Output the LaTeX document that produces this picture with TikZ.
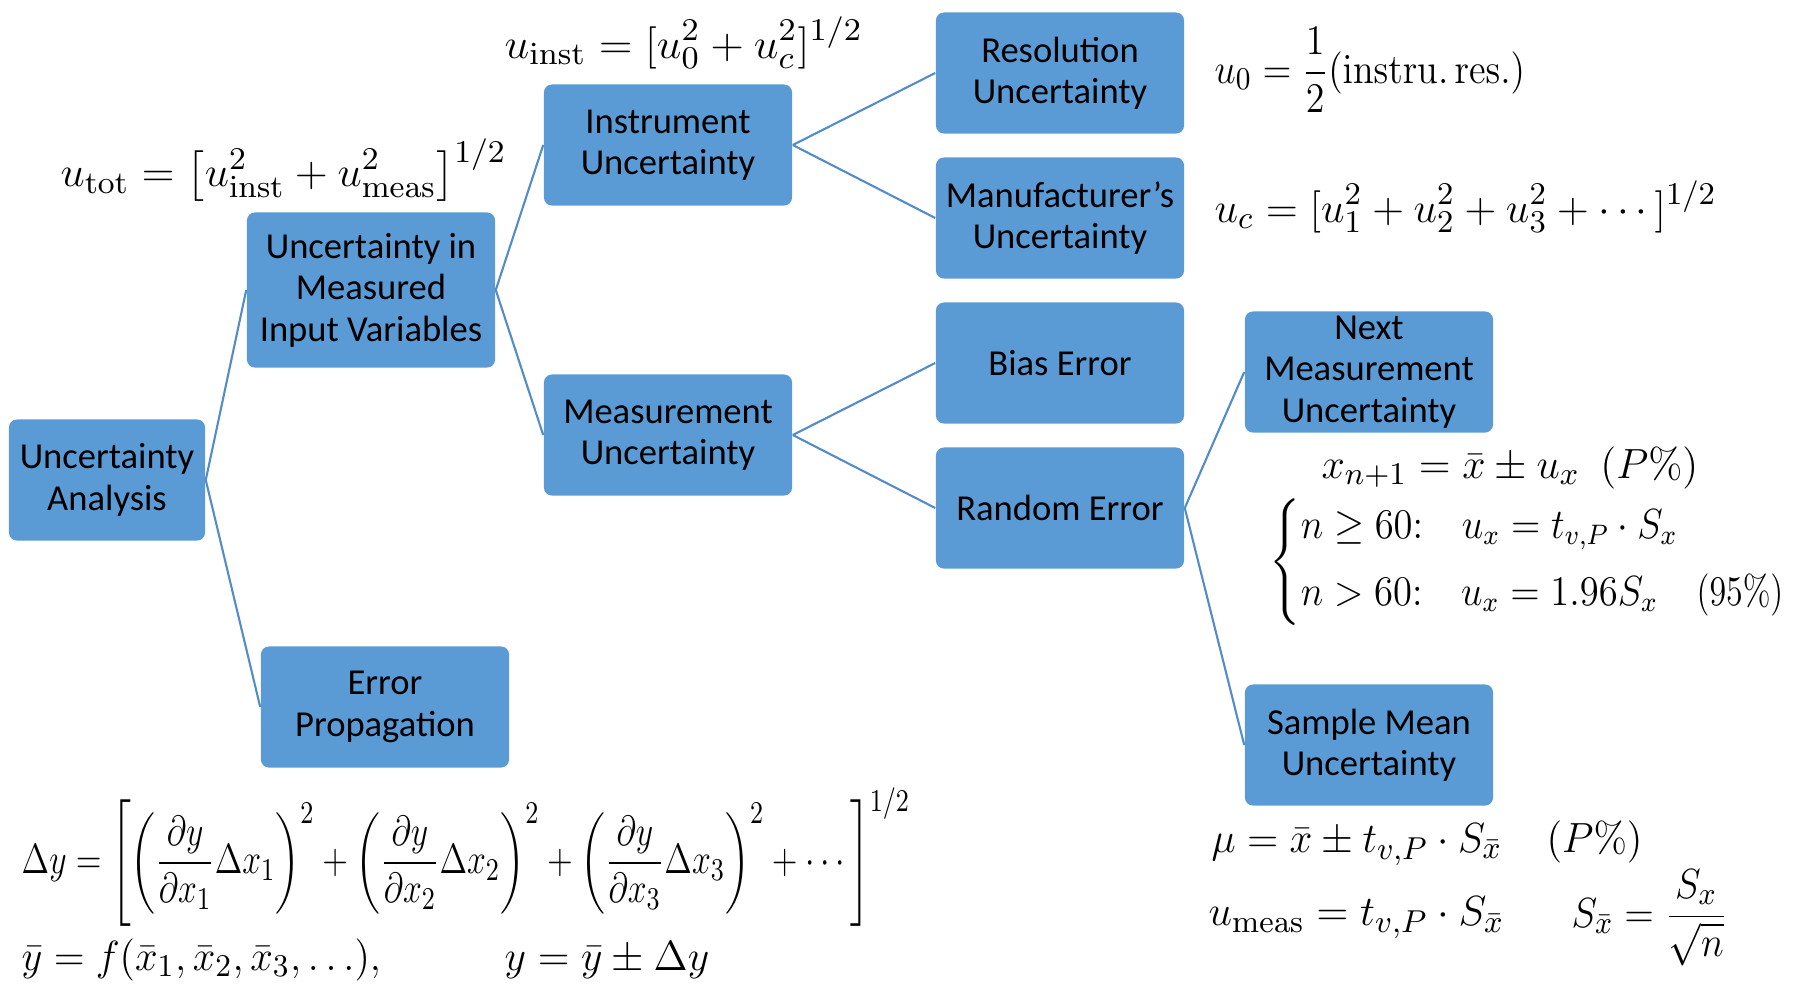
\documentclass[tikz,border=0pt]{standalone}
\usepackage{amsmath}
\usepackage[no-math]{fontspec}
\setmainfont{Carlito}

\definecolor{boxblue}{RGB}{91,155,213}
\definecolor{lineblue}{RGB}{84,140,200}

% squeeze a formula sideways: #1 = x factor, #2 = formula
\newcommand{\sqz}[2]{\scalebox{#1}[1]{$\displaystyle #2$}}

\tikzset{
  ubox/.style={fill=boxblue, rounded corners=0.08cm, minimum width=2.48cm,
    minimum height=1.21cm, align=center, inner sep=0pt,
    font=\fontsize{10.4}{11.8}\selectfont},
  ulink/.style={lineblue, line width=0.6pt},
  eqn/.style={inner sep=0pt, font=\fontsize{13}{15}\selectfont},
}

\begin{document}
\begin{tikzpicture}[x=0.01cm, y=-0.01cm]

\useasboundingbox (0,0) rectangle (1796,987);

% ================================================================
% Boxes (tree, left to right)
% ================================================================
\node[ubox, minimum width=1.96cm] (ana) at (107,480) {Uncertainty\\Analysis};

\node[ubox, minimum height=1.55cm] (inp) at (371,290) {Uncertainty in\\Measured\\Input Variables};
\node[ubox] (prop) at (385,707) {Error\\Propagation};

\node[ubox] (inst) at (668,145) {Instrument\\Uncertainty};
\node[ubox] (meas) at (668,435) {Measurement\\Uncertainty};

\node[ubox] (res)  at (1060,73)  {Resolution\\Uncertainty};
\node[ubox] (manu) at (1060,218) {Manufacturer’s\\Uncertainty};
\node[ubox] (bias) at (1060,363) {Bias Error};
\node[ubox] (rand) at (1060,508) {Random Error};

\node[ubox] (next)  at (1369,372) {Next\\Measurement\\Uncertainty};
\node[ubox] (smean) at (1369,745) {Sample Mean\\Uncertainty};

% ================================================================
% Branch lines
% ================================================================
\foreach \from/\to in {ana/inp, ana/prop, inp/inst, inp/meas, inst/res,
    inst/manu, meas/bias, meas/rand, rand/next, rand/smean} {
  \draw[ulink] (\from.east) -- (\to.west);
}

% ================================================================
% Formulas
% ================================================================
% instrument / total
\node[eqn, anchor=west] (uinst) at (504,43) {\sqz{1.05}{u_{\mathrm{inst}} = [u_0^2 + u_c^2]^{1/2}}};
\node[eqn, anchor=west] (utot)  at (60,170) {\sqz{1.03}{u_{\mathrm{tot}} = \bigl[u_{\mathrm{inst}}^2 + u_{\mathrm{meas}}^2\bigr]^{1/2}}};

% resolution / manufacturer
\node[eqn, anchor=west] (uzero) at (1214,70) {\sqz{0.9}{u_0 = \frac{1}{2}(\mathrm{instru.\,res.})}};
\node[eqn, anchor=west] (uc)    at (1214,207) {\sqz{1}{u_c = [u_1^2 + u_2^2 + u_3^2 + \cdots]^{1/2}}};

% next measurement
\node[eqn, anchor=west] (xnext) at (1321,468) {\sqz{0.99}{x_{n+1} = \bar{x} \pm u_x\ \ (P\%)}};
\node[eqn, anchor=west, font=\fontsize{12}{14}\selectfont] (ncase) at (1269,562) {\sqz{0.915}{\left\{\begin{array}{@{}l@{}}
  n \geq 60{:}\quad u_x = t_{v,P}\cdot S_x\\[5pt]
  n > 60{:}\quad u_x = 1.96S_x\quad \scalebox{0.88}[1]{$(95\%)$}
  \end{array}\right.}};

% sample mean
\node[eqn, anchor=west] (mu)    at (1211,843) {\sqz{0.97}{\mu = \bar{x} \pm t_{v,P}\cdot S_{\bar{x}}\quad(P\%)}};
\node[eqn, anchor=west] (umeas) at (1208,918) {\sqz{1}{u_{\mathrm{meas}} = t_{v,P}\cdot S_{\bar{x}}}};
\node[eqn, anchor=west] (sxbar) at (1571,918) {\sqz{0.92}{S_{\bar{x}} = \frac{S_x}{\sqrt{n}}}};

% error propagation
\node[eqn, anchor=west] (dy) at (21,857) {\sqz{0.8}{\Delta y = \left[\left(\frac{\partial y}{\partial x_1}\Delta x_1\right)^2
  + \left(\frac{\partial y}{\partial x_2}\Delta x_2\right)^2
  + \left(\frac{\partial y}{\partial x_3}\Delta x_3\right)^2 + \cdots\right]^{1/2}}};
\node[eqn, anchor=west] (ybar) at (21,960) {\sqz{0.96}{\bar{y} = f(\bar{x}_1, \bar{x}_2, \bar{x}_3, \ldots),}};
\node[eqn, anchor=west] (yres) at (504,960) {\sqz{0.99}{y = \bar{y} \pm \Delta y}};

\end{tikzpicture}
\end{document}
